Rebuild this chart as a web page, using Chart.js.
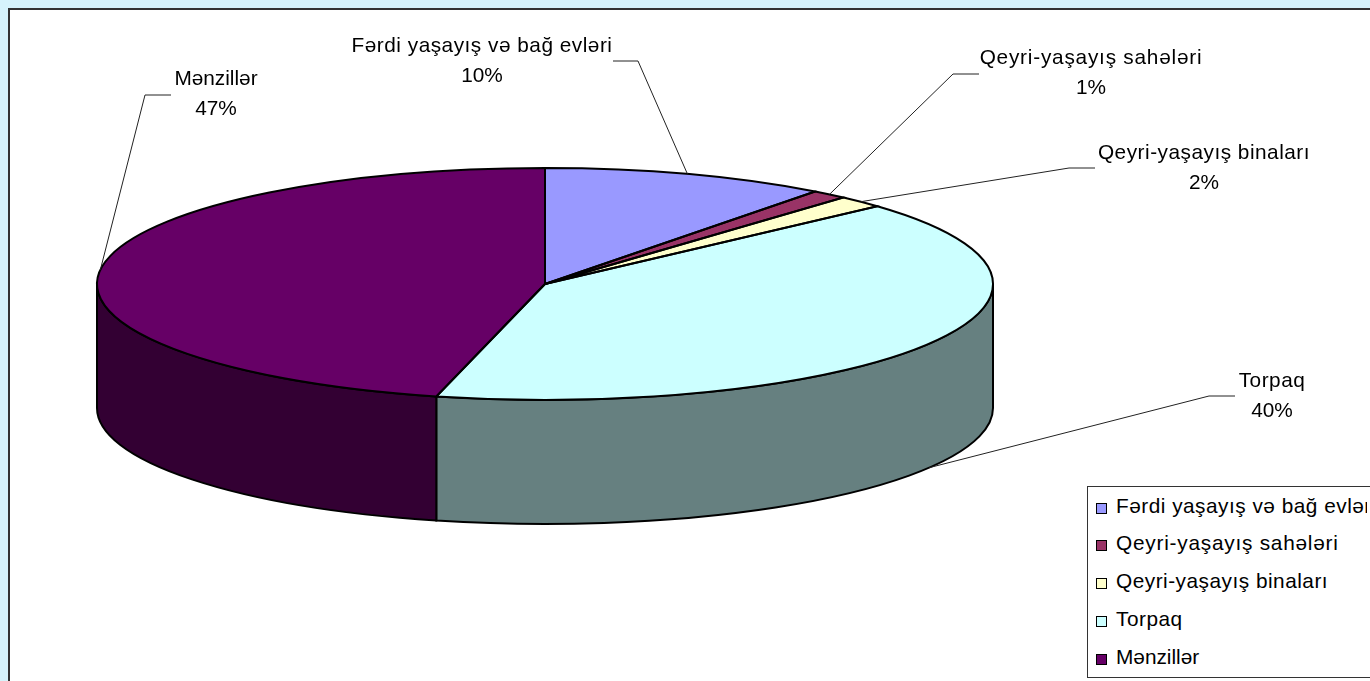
<!DOCTYPE html>
<html>
<head>
<meta charset="utf-8">
<title>Pie</title>
<script src="https://cdn.jsdelivr.net/npm/chart.js@4/dist/chart.umd.min.js"></script>
<style>
  html, body { margin: 0; width: 1370px; height: 681px; overflow: hidden; background: #d6f3fb; }
  #frame { position: absolute; left: 8px; top: 8px; width: 1400px; height: 700px; background: #fff; border-left: 2px solid #333; border-top: 2px solid #333; }
  #chart { position: absolute; left: 0; top: 0; }
  #legend { position: absolute; left: 1087px; top: 486px; width: 320px; height: 190px; background: #fff; border: 1px solid #333;
    font: 20.8px "Liberation Sans", Arial, sans-serif; color: #000; }
  #legend div { position: absolute; left: 8px; width: 271px; overflow: hidden; white-space: nowrap; line-height: 24px; height: 24px; }
  #legend i { display: inline-block; width: 9px; height: 9px; border: 1.5px solid #000; margin-right: 9px; vertical-align: -1px; }
</style>
</head>
<body>
<div id="frame"></div>
<canvas id="chart" width="1370" height="681"></canvas>
<div id="legend"></div>
<script>
// data. shares are the slice angles as drawn, percentLabels the printed text
const categories = ['Fərdi yaşayış və bağ evləri', 'Qeyri-yaşayış sahələri', 'Qeyri-yaşayış binaları', 'Torpaq', 'Mənzillər'];
const shares = [10.3, 1.3, 1.7, 40.6, 46.1];
const percentLabels = ['10%', '1%', '2%', '40%', '47%'];
const topColors = ['#9999ff', '#993366', '#ffffcc', '#ccffff', '#660066'];
const sideColors = ['#4d4d80', '#4d1a33', '#808066', '#668080', '#330033'];

// pie look: flat ellipse plus a wall below it
const CX = 545, CY = 284, RX = 448, RY = 116, DEPTH = 124;
const FONT = '20.8px "Liberation Sans", Arial, sans-serif';

// label text centre + baseline, letter spacing, and the elbow of each leader line (from -> elbow -> slice)
const labelSpots = [
  { x: 482, y: 52, track: 0.5, from: [613, 61], elbow: [638, 61] },
  { x: 1091, y: 64, track: 0.77, from: [979, 74], elbow: [953, 74] },
  { x: 1204, y: 159, track: 0.5, from: [1095, 168], elbow: [1069, 168] },
  { x: 1272, y: 387, track: 0.5, from: [1235, 396], elbow: [1209, 396] },
  { x: 216, y: 85, track: 0, from: [171, 95], elbow: [145, 95] }
];

function rimPoint(a) {
  return [CX + Math.cos(a) * RX, CY + Math.sin(a) * RY];
}

const pie3d = {
  id: 'pie3d',
  beforeDatasetsDraw(chart) {
    const ctx = chart.ctx;
    const arcs = chart.getDatasetMeta(0).data;
    // side wall, only the front half shows
    arcs.forEach((arc, i) => {
      const a0 = Math.max(arc.startAngle, 0), a1 = Math.min(arc.endAngle, Math.PI);
      if (a1 <= a0) return;
      ctx.beginPath();
      ctx.ellipse(CX, CY, RX, RY, 0, a0, a1);
      ctx.ellipse(CX, CY + DEPTH, RX, RY, 0, a1, a0, true);
      ctx.closePath();
      ctx.fillStyle = sideColors[i];
      ctx.fill();
      ctx.lineWidth = 2;
      ctx.strokeStyle = '#000';
      ctx.stroke();
    });
    // squash the library's round pie into the ellipse
    const first = arcs[0];
    ctx.save();
    ctx.translate(CX, CY);
    ctx.scale(RX / first.outerRadius, RY / first.outerRadius);
    ctx.translate(-first.x, -first.y);
  },
  afterDatasetsDraw(chart) {
    const ctx = chart.ctx;
    ctx.restore();
    const arcs = chart.getDatasetMeta(0).data;
    ctx.lineWidth = 2;
    ctx.strokeStyle = '#000';
    arcs.forEach(arc => {
      ctx.beginPath();
      ctx.moveTo(CX, CY);
      ctx.ellipse(CX, CY, RX, RY, 0, arc.startAngle, arc.endAngle);
      ctx.closePath();
      ctx.stroke();
    });
    // leader lines and labels
    ctx.font = FONT;
    ctx.fillStyle = '#000';
    ctx.textAlign = 'center';
    ctx.textBaseline = 'alphabetic';
    arcs.forEach((arc, i) => {
      const spot = labelSpots[i];
      const mid = (arc.startAngle + arc.endAngle) / 2;
      const p = rimPoint(mid);
      if (Math.sin(mid) > 0) p[1] += DEPTH;
      ctx.beginPath();
      ctx.moveTo(spot.from[0], spot.from[1]);
      ctx.lineTo(spot.elbow[0], spot.elbow[1]);
      ctx.lineTo(p[0], p[1]);
      ctx.lineWidth = 1;
      ctx.strokeStyle = '#222';
      ctx.stroke();
      ctx.letterSpacing = spot.track + 'px';
      ctx.fillText(categories[i], spot.x, spot.y);
      ctx.letterSpacing = '0px';
      ctx.fillText(percentLabels[i], spot.x, spot.y + 30);
    });
  }
};

new Chart(document.getElementById('chart'), {
  type: 'pie',
  data: {
    labels: categories,
    datasets: [{ data: shares, backgroundColor: topColors, borderWidth: 0, clip: false }]
  },
  options: {
    responsive: false,
    animation: false,
    plugins: { legend: { display: false }, tooltip: { enabled: false } }
  },
  plugins: [pie3d]
});

// legend box
const legendEl = document.getElementById('legend');
const legendTops = [7, 44, 82, 120, 158];
categories.forEach((name, i) => {
  const row = document.createElement('div');
  row.style.top = legendTops[i] + 'px';
  row.innerHTML = '<i style="background:' + topColors[i] + '"></i><span style="letter-spacing:' + labelSpots[i].track + 'px">' + name + '</span>';
  legendEl.appendChild(row);
});
</script>
</body>
</html>
